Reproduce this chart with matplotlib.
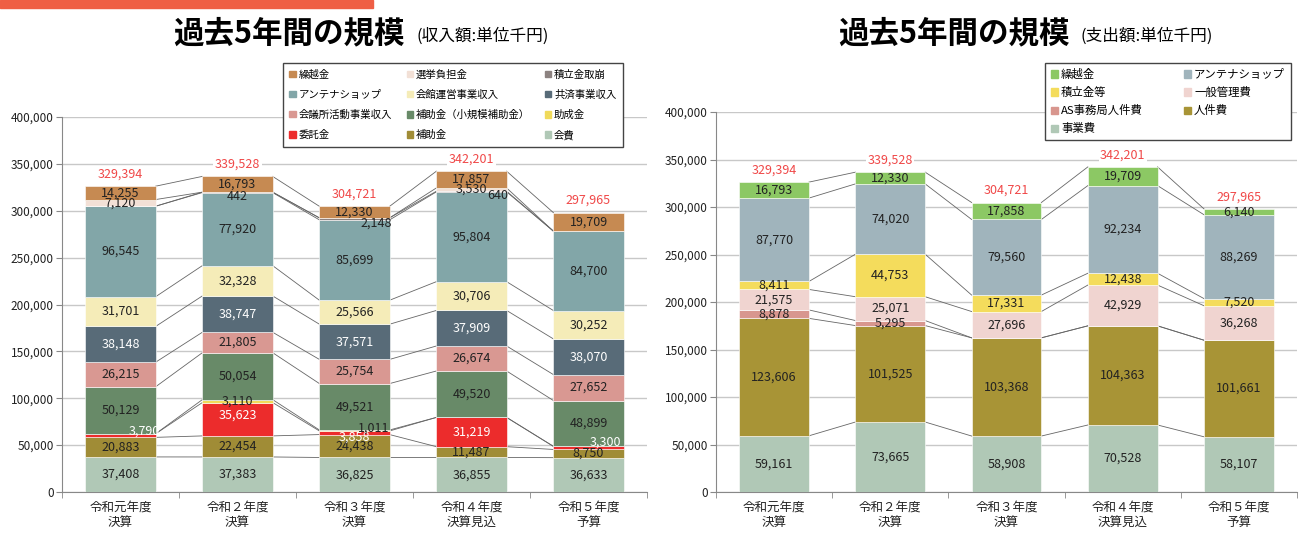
import numpy as np
import matplotlib.pyplot as plt
from matplotlib.patches import Patch, Rectangle
from matplotlib.ticker import FuncFormatter, FixedLocator

plt.rcParams['font.family'] = ['Noto Sans CJK JP', 'DejaVu Sans']

years = ['令和元年度\n決算', '令和２年度\n決算', '令和３年度\n決算', '令和４年度\n決算見込', '令和５年度\n予算']
totals = [329394, 339528, 304721, 342201, 297965]

# income (bottom to top)
inc_names = ['会費', '補助金', '委託金', '助成金', '補助金（小規模補助金）', '会議所活動事業収入',
             '共済事業収入', '会館運営事業収入', 'アンテナショップ', '積立金取崩', '選挙負担金', '繰越金']
kaihi = [37408, 37383, 36825, 36855, 36633]
hojo = [20883, 22454, 24438, 11487, 8750]
itaku = [3790, 35623, 3858, 31219, 3300]
josei = [0, 3110, 1011, 0, 0]
shokibo = [50129, 50054, 49521, 49520, 48899]
kaigisho = [26215, 21805, 25754, 26674, 27652]
kyosai = [38148, 38747, 37571, 37909, 38070]
kaikan = [31701, 32328, 25566, 30706, 30252]
antenna_in = [96545, 77920, 85699, 95804, 84700]
tsumitate_in = [0, 442, 2148, 640, 0]
senkyo = [7120, 0, 0, 3530, 0]
kurikoshi_in = [14255, 16793, 12330, 17857, 19709]
inc_colors = ['#b0c8b6', '#a08c36', '#ec2c2c', '#f0da5a', '#688a68', '#d99892',
              '#586b78', '#f5ecb8', '#82a6a8', '#8c8280', '#f2e0d6', '#c68a52']

# expenses (bottom to top)
exp_names = ['事業費', '人件費', 'AS事務局人件費', '一般管理費', '積立金等', 'アンテナショップ', '繰越金']
jigyo = [59161, 73665, 58908, 70528, 58107]
jinken = [123606, 101525, 103368, 104363, 101661]
as_jinken = [8878, 5295, 0, 0, 0]
ippan = [21575, 25071, 27696, 42929, 36268]
tsumitate_out = [8411, 44753, 17331, 12438, 7520]
antenna_out = [87770, 74020, 79560, 92234, 88269]
kurikoshi_out = [16793, 12330, 17858, 19709, 6140]
exp_colors = ['#b0c8b6', '#a89436', '#d8968e', '#f0d4d0', '#f4dc5c', '#a0b4bc', '#8cc864']


def draw(ax, series, colors, white_idx, nudges):
    x = np.arange(len(years))
    w = 0.6
    bottom = np.zeros(len(years))
    tops = []
    for i, vals in enumerate(series):
        vals = np.array(vals, dtype=float)
        ax.bar(x, vals, w, bottom=bottom, color=colors[i], edgecolor='white', linewidth=0.4, zorder=3)
        for j, v in enumerate(vals):
            if v <= 0:
                continue
            dx, dy = nudges.get((i, j), (0, 0))
            ax.annotate(f'{int(v):,}', (x[j], bottom[j] + v / 2), xytext=(dx, dy),
                        textcoords='offset points', ha='center', va='center', fontsize=9,
                        color='white' if i in white_idx else '#222', zorder=5)
        bottom = bottom + vals
        tops.append(bottom.copy())
    # series lines between bars
    for t in tops:
        for j in range(len(x) - 1):
            ax.plot([x[j] + w / 2, x[j + 1] - w / 2], [t[j], t[j + 1]], color='#666', lw=0.6, zorder=2)
    for j in range(len(x)):
        ax.annotate(f'{totals[j]:,}', (x[j], bottom[j]), xytext=(0, 4), textcoords='offset points',
                    ha='center', va='bottom', fontsize=9, color='#f04848',
                    bbox=dict(fc='white', ec='none', pad=1), zorder=4)

    ax.set_xlim(-0.5, len(years) - 0.5)
    ax.set_ylim(0, 400000)
    ax.set_yticks(np.arange(0, 400001, 50000))
    ax.yaxis.set_major_formatter(FuncFormatter(lambda v, p: f'{int(v):,}'))
    ax.set_xticks(x)
    ax.set_xticklabels(years, fontsize=9, linespacing=1.3, color='#222')
    ax.xaxis.set_minor_locator(FixedLocator(np.arange(-0.5, len(years), 1.0)))
    ax.tick_params(axis='x', which='major', length=0, pad=6)
    ax.tick_params(axis='x', which='minor', length=4, color='#888')
    ax.tick_params(axis='y', labelsize=8.5, length=4, color='#888', labelcolor='#222', pad=2)
    ax.grid(axis='y', color='#c8c8c8', lw=1)
    ax.set_axisbelow(True)
    for s in ['top', 'right']:
        ax.spines[s].set_visible(False)
    for s in ['left', 'bottom']:
        ax.spines[s].set_color('#888')


def col_major(items, ncol):
    nrow = int(np.ceil(len(items) / ncol))
    out = []
    for c in range(ncol):
        for r in range(nrow):
            k = r * ncol + c
            if k < len(items):
                out.append(items[k])
    return out


fig = plt.figure(figsize=(13.1, 5.34), dpi=100)

# orange strip at the top
fig.patches.append(Rectangle((0, 1 - 8 / 534), 373 / 1310, 8 / 534, transform=fig.transFigure,
                             color='#ef5f45', zorder=0))

ax1 = fig.add_axes([62 / 1310, 42 / 534, 585 / 1310, 375 / 534])
ax2 = fig.add_axes([716 / 1310, 42 / 534, 581 / 1310, 380 / 534])

inc_series = [kaihi, hojo, itaku, josei, shokibo, kaigisho, kyosai, kaikan,
              antenna_in, tsumitate_in, senkyo, kurikoshi_in]
inc_nudges = {(2, 0): (17, 3.5), (2, 1): (0, 3), (9, 1): (0, -3), (9, 2): (16, -3),
              (3, 2): (14, 2), (2, 2): (0, -3), (9, 3): (19, -2.5), (2, 4): (12, 4)}
draw(ax1, inc_series, inc_colors, {2, 6}, inc_nudges)

exp_series = [jigyo, jinken, as_jinken, ippan, tsumitate_out, antenna_out, kurikoshi_out]
draw(ax2, exp_series, exp_colors, set(), {})

# legends
h1 = [Patch(color=c, label=n) for n, c in zip(inc_names[::-1], inc_colors[::-1])]
fig.legend(handles=col_major(h1, 3), ncol=3, loc='upper left',
           bbox_to_anchor=(283 / 1310, 1 - 63 / 534), fontsize=7.5, frameon=True, fancybox=False,
           edgecolor='#444', framealpha=1, borderaxespad=0, handlelength=0.6, handleheight=0.6,
           handletextpad=0.3, columnspacing=1.4, labelspacing=0.97, borderpad=0.6)
h2 = [Patch(color=c, label=n) for n, c in zip(exp_names[::-1], exp_colors[::-1])]
fig.legend(handles=col_major(h2, 2), ncol=2, loc='upper left',
           bbox_to_anchor=(1045 / 1310, 1 - 63 / 534), fontsize=8.2, frameon=True, fancybox=False,
           edgecolor='#444', framealpha=1, borderaxespad=0, handlelength=0.6, handleheight=0.6,
           handletextpad=0.3, columnspacing=3.6, labelspacing=0.62, borderpad=0.5)

# titles
ty = 1 - 33 / 534
fig.text(173 / 1310, ty, '過去5年間の規模', fontsize=22, fontweight='bold', va='center')
fig.text(416 / 1310, ty - 0.006, '(収入額:単位千円)', fontsize=12, va='center')
fig.text(838 / 1310, ty, '過去5年間の規模', fontsize=22, fontweight='bold', va='center')
fig.text(1080 / 1310, ty - 0.006, '(支出額:単位千円)', fontsize=12, va='center')

fig.savefig('out.png', dpi=100)
